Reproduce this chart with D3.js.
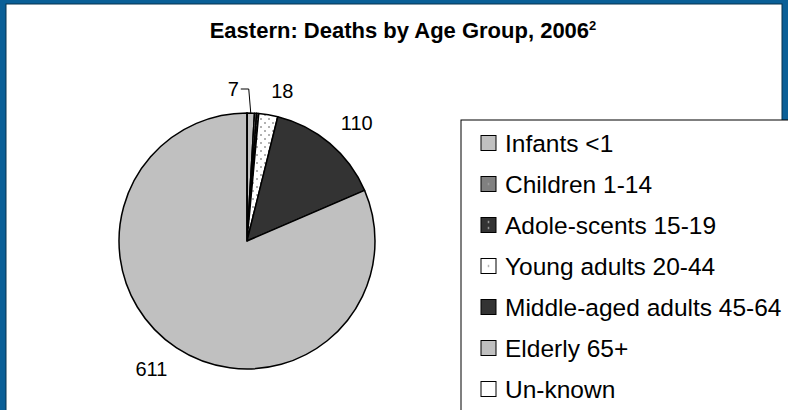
<!DOCTYPE html>
<html>
<head>
<meta charset="utf-8">
<script src="https://cdn.jsdelivr.net/npm/d3@7"></script>
<style>
  body { margin: 0; background: #fff; }
  svg { display: block; font-family: "Liberation Sans", Arial, sans-serif; }
</style>
</head>
<body>
<div id="chart"></div>
<script>
// data
const categories = ["Infants <1", "Children 1-14", "Adole-scents 15-19", "Young adults 20-44",
                    "Middle-aged adults 45-64", "Elderly 65+", "Un-known"];
const deaths = [7, 2, 2, 18, 110, 611, 0];
const fills = ["#c0c0c0", "url(#pat-children)", "url(#pat-adol)", "url(#pat-young)",
               "#333333", "#c0c0c0", "#ffffff"];
const swatchFills = ["#c0c0c0", "url(#sw-children)", "url(#sw-adol)", "url(#sw-young)",
                     "#333333", "#c0c0c0", "#ffffff"];

const width = 788, height = 410;
const cx = 247, cy = 241, radius = 128;

const svg = d3.select("#chart").append("svg")
    .attr("width", width)
    .attr("height", height);

const defs = svg.append("defs");

// dotted fills
function dotPattern(id, bg, dot, size) {
    const p = defs.append("pattern")
        .attr("id", id)
        .attr("patternUnits", "userSpaceOnUse")
        .attr("width", size).attr("height", size);
    p.append("rect").attr("width", size).attr("height", size).attr("fill", bg);
    p.append("circle").attr("cx", size / 4).attr("cy", size / 4).attr("r", 1).attr("fill", dot);
    p.append("circle").attr("cx", size * 3 / 4).attr("cy", size * 3 / 4).attr("r", 1).attr("fill", dot);
}
dotPattern("pat-children", "#808080", "#b0b0b0", 6);
dotPattern("pat-adol", "#333333", "#cccccc", 6);
dotPattern("pat-young", "#ffffff", "#999999", 8);

function swatchPattern(id, bg, dot, dots) {
    const p = defs.append("pattern")
        .attr("id", id)
        .attr("patternContentUnits", "objectBoundingBox")
        .attr("width", 1).attr("height", 1);
    p.append("rect").attr("width", 1).attr("height", 1).attr("fill", bg);
    dots.forEach(d => {
        p.append("rect").attr("x", 0.45).attr("y", d).attr("width", 0.1).attr("height", 0.1).attr("fill", dot);
    });
}
swatchPattern("sw-children", "#808080", "#aaaaaa", [0.45]);
swatchPattern("sw-adol", "#333333", "#cccccc", [0.25, 0.65]);
swatchPattern("sw-young", "#ffffff", "#888888", [0.45]);

// blue frame
svg.append("rect")
    .attr("width", width).attr("height", height)
    .attr("fill", "#0a5f97");
svg.append("rect")
    .attr("x", 6).attr("y", 4)
    .attr("width", width - 12).attr("height", height)
    .attr("fill", "#ffffff")
    .attr("stroke", "#06324f")
    .attr("stroke-width", 1);

// title
const title = svg.append("text")
    .attr("x", 403)
    .attr("y", 38)
    .attr("text-anchor", "middle")
    .attr("font-size", "22px")
    .attr("font-weight", "bold")
    .attr("fill", "#000");
title.append("tspan").text("Eastern: Deaths by Age Group, 2006");
title.append("tspan")
    .attr("font-size", "13px")
    .attr("dy", -8)
    .text("2");

// pie
const pie = d3.pie().sort(null).value(d => d);
const arcs = pie(deaths);
const arc = d3.arc().innerRadius(0).outerRadius(radius);

const g = svg.append("g").attr("transform", `translate(${cx},${cy})`);

g.selectAll("path")
    .data(arcs)
    .enter()
    .append("path")
    .attr("d", arc)
    .attr("fill", (d, i) => fills[i])
    .attr("stroke", "#000")
    .attr("stroke-width", 1.5)
    .attr("stroke-linejoin", "round");

// data labels: nearest corner of the label box sits a fixed gap outside the pie
const gap = 17, capH = 14;
const labelArc = d3.arc().innerRadius(radius + gap).outerRadius(radius + gap);
const labelled = arcs.filter(d => d.value >= 5);

labelled.forEach(d => {
    const mid = (d.startAngle + d.endAngle) / 2;
    if (d.value < 10) {
        // small slice: label pushed out left with a leader line
        const ex = radius * Math.sin(mid), ey = -radius * Math.cos(mid);
        const topY = -radius - 24;
        g.append("path")
            .attr("d", `M${ex},${ey}L${ex - 2},${topY}L${ex - 10},${topY}`)
            .attr("fill", "none")
            .attr("stroke", "#000")
            .attr("stroke-width", 1);
        g.append("text")
            .attr("x", ex - 12)
            .attr("y", topY)
            .attr("text-anchor", "end")
            .attr("dominant-baseline", "central")
            .attr("font-size", "20px")
            .text(d.value);
    } else {
        const [px, py] = labelArc.centroid(d);
        const t = g.append("text")
            .attr("text-anchor", "middle")
            .attr("dominant-baseline", "central")
            .attr("font-size", "20px")
            .text(d.value);
        const w = t.node().getComputedTextLength();
        t.attr("x", px + Math.sign(Math.sin(mid)) * w / 2)
         .attr("y", py - Math.sign(Math.cos(mid)) * capH / 2);
    }
});

// legend
const legendX = 461, legendY = 120, rowH = 41;
svg.append("rect")
    .attr("x", legendX).attr("y", legendY)
    .attr("width", 360).attr("height", 320)
    .attr("fill", "#fff")
    .attr("stroke", "#000")
    .attr("stroke-width", 1);

const rows = svg.selectAll(".legend-row")
    .data(categories)
    .enter()
    .append("g")
    .attr("class", "legend-row")
    .attr("transform", (d, i) => `translate(${legendX + 20},${legendY + 23 + i * rowH})`);

rows.append("rect")
    .attr("x", 0).attr("y", -7.5)
    .attr("width", 15).attr("height", 15)
    .attr("fill", (d, i) => swatchFills[i])
    .attr("stroke", "#000")
    .attr("stroke-width", 1);

rows.append("text")
    .attr("x", 24)
    .attr("y", 0)
    .attr("dominant-baseline", "central")
    .attr("font-size", "24.5px")
    .text(d => d);
</script>
</body>
</html>
